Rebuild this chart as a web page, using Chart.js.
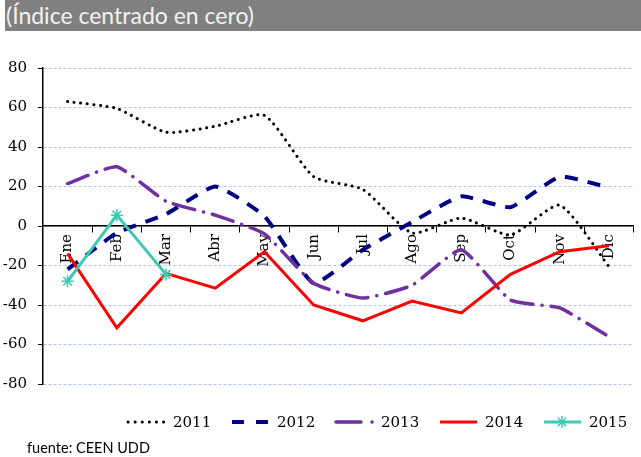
<!DOCTYPE html>
<html>
<head>
<meta charset="utf-8">
<script src="https://cdn.jsdelivr.net/npm/chart.js"></script>
<style>
  body { margin: 0; background: #fff; }
  #wrap { position: relative; width: 641px; height: 457px; overflow: hidden; }
  #title { position: absolute; left: 5px; top: 0; width: 636px; height: 31px; background: #808080;
           color: #f2f2f2; font: 23px Lato, sans-serif; line-height: 31px; padding-left: 1px; box-sizing: border-box; }
  #src { position: absolute; left: 27px; top: 439px; font: 14.5px Lato, sans-serif; color: #000; }
  canvas { position: absolute; left: 0; top: 0; }
</style>
</head>
<body>
<div id="wrap">
  <canvas id="chart" width="641" height="457"></canvas>
  <div id="title">(Índice centrado en cero)</div>
  <div id="src">fuente: CEEN UDD</div>
</div>
<script>
const months = ['Ene', 'Feb', 'Mar', 'Abr', 'May', 'Jun', 'Jul', 'Ago', 'Sep', 'Oct', 'Nov', 'Dic'];
const s2011 = [63, 59.5, 47.5, 50.5, 56, 25, 18.5, -3.5, 4, -4.5, 10.5, -20.5];
const s2012 = [-22, -3.5, 6, 20, 5, -29, -12, 2, 15, 9.5, 25, 19.5];
const s2013 = [21.5, 30, 12.5, 5.5, -4, -29, -36.5, -30, -12, -37.5, -41.5, -56];
const s2014 = [-14, -51.5, -24, -31.5, -13, -40, -48, -38, -44, -24.5, -13, -10];
const s2015 = [-28, 5.5, -24.5];
const yTicks = [-80, -60, -40, -20, 0, 20, 40, 60, 80];

const serif = "'DejaVu Serif', 'Liberation Serif', serif";

// legend drawn under the plot, line sample + label
const bottomLegend = {
  id: 'bottomLegend',
  afterDraw(chart) {
    const ctx = chart.ctx;
    const y = 422;
    chart.data.datasets.forEach((ds, i) => {
      const x0 = 127 + i * 104;
      ctx.save();
      ctx.strokeStyle = ds.borderColor;
      ctx.lineWidth = ds.borderWidth;
      ctx.lineCap = ds.borderCapStyle || 'butt';
      ctx.setLineDash(ds.legendDash || ds.borderDash || []);
      ctx.beginPath();
      ctx.moveTo(x0 + 1, y);
      ctx.lineTo(x0 + 38, y);
      ctx.stroke();
      ctx.setLineDash([]);
      if (ds.pointStyle === 'star') {
        const cx = x0 + 19, r = ds.pointRadius;
        ctx.lineWidth = ds.pointBorderWidth;
        ctx.lineCap = 'butt';
        ctx.beginPath();
        for (let a = 0; a < 4; a++) {
          const t = a * Math.PI / 4;
          ctx.moveTo(cx - Math.cos(t) * r, y - Math.sin(t) * r);
          ctx.lineTo(cx + Math.cos(t) * r, y + Math.sin(t) * r);
        }
        ctx.stroke();
      }
      ctx.fillStyle = '#000';
      ctx.font = '15px ' + serif;
      ctx.textBaseline = 'middle';
      ctx.fillText(ds.label, x0 + 46, y + 1);
      ctx.restore();
    });
  }
};

new Chart(document.getElementById('chart'), {
  type: 'line',
  data: {
    labels: months,
    datasets: [
      { label: '2011', data: s2011, borderColor: '#000000', borderWidth: 3, borderDash: [0.1, 6.5],
        legendDash: [0.1, 7], borderCapStyle: 'round', tension: 0.2, pointRadius: 0, order: 5 },
      { label: '2012', data: s2012, borderColor: '#000080', borderWidth: 4, borderDash: [13, 10],
        legendDash: [12, 12], tension: 0.15, pointRadius: 0, order: 4 },
      { label: '2013', data: s2013, borderColor: '#7030a0', borderWidth: 3.5, borderDash: [22, 9, 0.1, 9],
        legendDash: [25, 11, 0.1, 11], borderCapStyle: 'round', tension: 0.15, pointRadius: 0, order: 3 },
      { label: '2014', data: s2014, borderColor: '#ff0000', borderWidth: 3, tension: 0, pointRadius: 0, order: 2 },
      { label: '2015', data: s2015, borderColor: '#3cc8b2', borderWidth: 3, tension: 0,
        pointStyle: 'star', pointRadius: 6, pointBorderWidth: 1.5, pointBorderColor: '#3cc8b2',
        pointBackgroundColor: '#3cc8b2', order: 1 }
    ]
  },
  options: {
    responsive: false,
    animation: false,
    layout: { padding: { top: 68, bottom: 73, left: 0, right: 0 } },
    plugins: { legend: { display: false }, tooltip: { enabled: false } },
    scales: {
      x: {
        position: { y: 0 },
        offset: true,
        grid: { drawOnChartArea: false, drawTicks: true, tickLength: 6, tickColor: '#000', offset: true },
        border: { color: '#000', width: 1.5 },
        ticks: { color: '#000', font: { family: serif, size: 15 }, minRotation: 90, maxRotation: 90,
                 padding: 2, autoSkip: false }
      },
      y: {
        min: -80, max: 80,
        afterFit(scale) { scale.width = 43; },
        afterBuildTicks(scale) { scale.ticks = yTicks.map(v => ({ value: v })); },
        grid: { color: '#b0c6ee', lineWidth: 1, tickColor: '#000', tickLength: 5 },
        border: { color: '#000', width: 1.5, dash: [3, 2] },
        ticks: { color: '#000', font: { family: serif, size: 15 }, padding: 11 }
      }
    }
  },
  plugins: [bottomLegend]
});
</script>
</body>
</html>
